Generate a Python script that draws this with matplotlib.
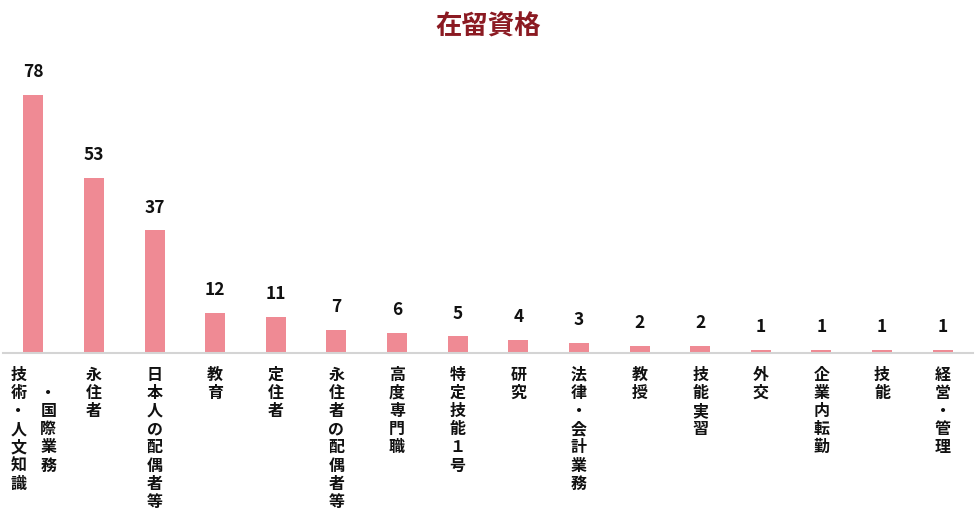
import matplotlib

matplotlib.use("Agg")
import matplotlib.pyplot as plt

plt.rcParams["font.family"] = ["Noto Sans CJK JP", "DejaVu Sans"]

# "\n" marks a column break in the vertical label
categories = [
    "技術・人文知識\n・国際業務",
    "永住者",
    "日本人の配偶者等",
    "教育",
    "定住者",
    "永住者の配偶者等",
    "高度専門職",
    "特定技能１号",
    "研究",
    "法律・会計業務",
    "教授",
    "技能実習",
    "外交",
    "企業内転勤",
    "技能",
    "経営・管理",
]
counts = [78, 53, 37, 12, 11, 7, 6, 5, 4, 3, 2, 2, 1, 1, 1, 1]

title = "在留資格"
bar_color = "#EF8A94"
title_color = "#8B1A22"


def main() -> None:
    fig = plt.figure(figsize=(9.8, 5.19), dpi=100)
    ax = fig.add_axes([3 / 980, 166 / 519, 970 / 980, 298 / 519])

    x = range(len(categories))
    ax.bar(x, counts, width=0.33, color=bar_color, zorder=2)
    ax.set_xlim(-0.5, len(categories) - 0.5)
    ax.set_ylim(0, 90)

    for s in ("top", "left", "right"):
        ax.spines[s].set_visible(False)
    ax.spines["bottom"].set_color("#D4D4D4")
    ax.spines["bottom"].set_linewidth(1.5)
    ax.set_xticks([])
    ax.set_yticks([])

    for i, v in enumerate(counts):
        ax.annotate(str(v), xy=(i, v), xytext=(0, 16.5), textcoords="offset points",
                    ha="center", va="center", fontsize=12.5, fontweight="bold", color="#111111")

    pitch = 13.1  # points per character, vertical writing
    col_gap = 21.6
    for i, label in enumerate(categories):
        cols = label.split("\n")
        n = len(cols)
        for j, col in enumerate(cols):
            dx = (j - (n - 1) / 2) * col_gap
            for k, ch in enumerate(col):
                dy = -15.5 - (k + j) * pitch
                ax.annotate(ch, xy=(i, 0), xytext=(dx, dy), textcoords="offset points",
                            ha="center", va="center", fontsize=11.5, fontweight="bold",
                            color="#111111", annotation_clip=False)

    fig.text(0.498, 1 - 27 / 519, title, ha="center", va="center",
             fontsize=19, fontweight="bold", color=title_color)

    fig.savefig("out.png", dpi=100)
    plt.close(fig)


if __name__ == "__main__":
    main()
